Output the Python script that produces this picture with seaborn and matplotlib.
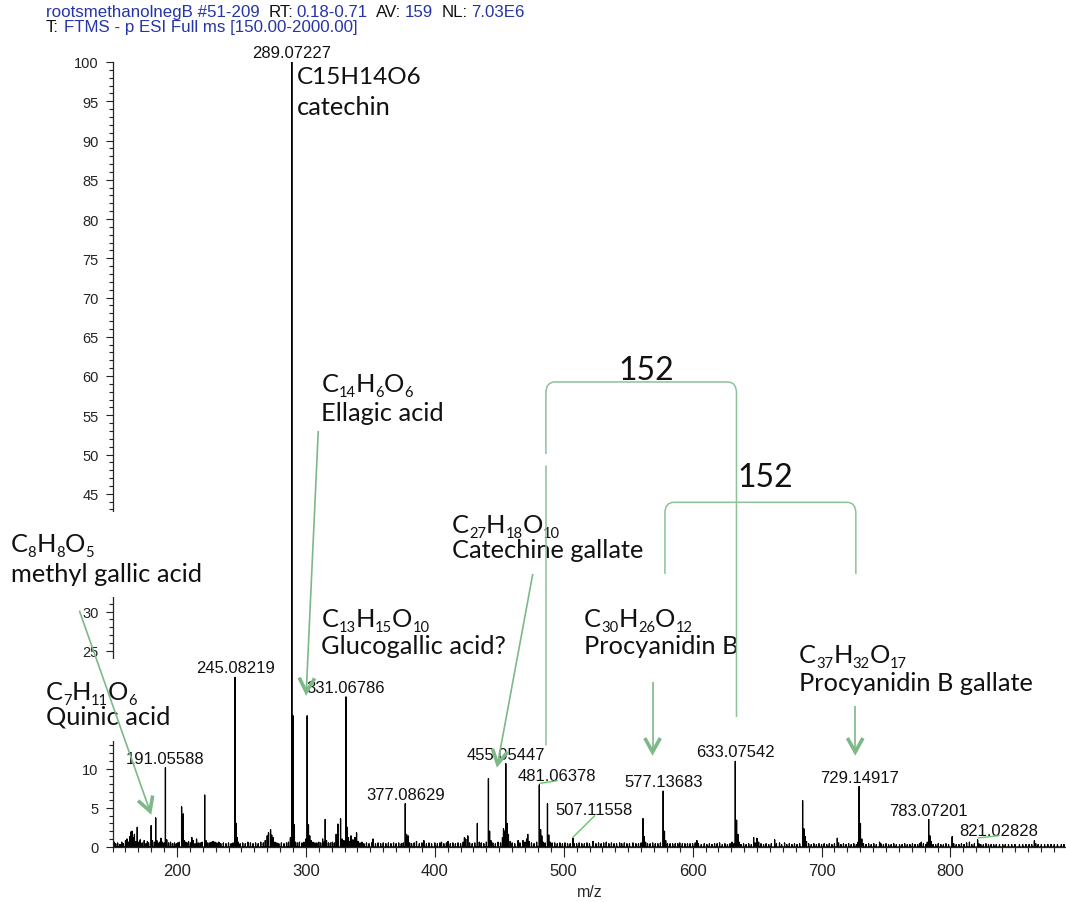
import re
import numpy as np
import pandas as pd
import matplotlib
matplotlib.use("Agg")
import matplotlib.pyplot as plt
import seaborn as sns
from matplotlib.patches import Rectangle, PathPatch
from matplotlib.path import Path

# ---------------------------------------------------------------
# Centroided negative-ion spectrum (m/z, relative abundance in %)
# ---------------------------------------------------------------
label_mz = [191.05588, 245.08219, 289.07227, 331.06786, 377.08629, 455.05447,
            481.06378, 507.11558, 577.13683, 633.07542, 729.14917, 783.07201,
            821.02828]
label_int = [10.1, 21.6, 100.0, 19.1, 5.5, 10.6, 7.9, 1.1, 7.1, 10.9, 7.7, 3.5, 0.9]

other_mz = [
    150.6, 151.4, 152.5, 154.0, 155.8, 157.2, 158.5, 160.1, 161.2, 162.4, 163.3, 164.3,
    165.1, 166.0, 167.0, 168.2, 169.2, 170.4, 171.5, 173.0, 174.6, 176.0, 177.1, 178.0,
    180.0, 181.0, 182.5, 183.5, 184.4, 185.2, 186.5, 187.6, 188.7, 190.0, 192.06, 193.5,
    195.0, 196.5, 198.0, 199.4, 200.6, 201.8, 203.6, 204.9, 205.8, 206.8, 207.8, 209.0,
    210.5, 211.5, 212.5, 214.0, 215.2, 216.5, 218.0, 219.5, 221.5, 222.5, 223.5, 225.0,
    226.5, 228.0, 229.5, 231.0, 232.5, 234.0, 236.0, 238.0, 240.0, 242.0, 243.5, 246.09,
    246.6, 247.5, 249.0, 251.0, 253.0, 255.0, 257.0, 259.0, 261.0, 263.0, 265.0, 267.0,
    268.5, 270.0, 271.0, 272.6, 273.5, 274.5, 276.0, 277.5, 279.0, 281.0, 283.0, 285.0,
    286.5, 288.0, 290.076, 291.08, 292.0, 293.5, 295.0, 297.0, 298.5, 300.0, 300.999,
    302.0, 303.0, 304.0, 305.5, 307.0, 308.5, 310.0, 311.5, 313.0, 314.0, 315.0, 316.0,
    317.5, 319.0, 320.5, 322.0, 323.5, 324.8, 326.9, 328.0, 329.5, 332.07, 333.0, 334.0,
    335.0, 336.5, 338.0, 339.3, 340.5, 342.0, 343.5, 345.0, 347.0, 349.0, 351.0, 352.0,
    354.0, 356.0, 358.0, 360.0, 362.0, 364.0, 366.0, 368.0, 370.0, 372.0, 374.0, 375.5,
    378.09, 379.3, 380.5, 382.0, 384.0, 385.8, 388.0, 390.0, 391.5, 393.5, 395.5, 397.5,
    400.0, 402.0, 404.0, 405.2, 407.0, 409.0, 410.3, 412.0, 414.0, 416.0, 418.0, 420.0,
    422.0, 423.0, 424.0, 425.6, 427.0, 429.0, 431.0, 433.0, 434.5, 436.0, 438.0, 440.0,
    441.6, 442.5, 443.5, 445.0, 447.0, 449.0, 451.0, 452.5, 453.3, 454.3, 456.06, 457.1,
    458.5, 460.0, 462.0, 464.6, 466.0, 468.4, 470.0, 471.2, 472.1, 473.0, 475.0, 477.0,
    479.0, 482.07, 483.0, 484.0, 485.5, 487.4, 488.4, 489.5, 491.0, 493.0, 495.0, 497.0,
    499.0, 501.0, 503.0, 505.0, 508.1, 510.0, 512.0, 514.0, 516.0, 518.0, 520.0, 522.7,
    525.0, 527.0, 529.0, 531.0, 533.0, 535.0, 537.0, 539.0, 541.0, 543.4, 545.0, 547.0,
    549.0, 551.0, 553.7, 556.0, 558.0, 560.0, 561.5, 562.4, 563.5, 565.0, 567.0, 569.0,
    571.0, 573.0, 575.0, 578.14, 579.1, 580.5, 582.5, 584.5, 586.5, 588.5, 590.0, 592.0,
    594.0, 596.0, 598.0, 600.0, 602.0, 603.3, 604.5, 606.7, 609.0, 611.0, 613.0, 615.0,
    617.0, 619.0, 620.9, 623.0, 625.0, 627.0, 629.0, 630.5, 632.0, 634.08, 635.1, 636.0,
    637.5, 639.5, 641.5, 643.5, 645.5, 647.3, 648.5, 649.9, 651.2, 653.0, 655.0, 657.0,
    659.0, 661.0, 663.6, 665.0, 667.4, 669.0, 671.3, 673.0, 675.0, 677.0, 679.0, 681.0,
    683.0, 685.3, 686.3, 687.3, 688.3, 690.0, 692.0, 694.0, 696.0, 698.0, 700.0, 702.0,
    704.0, 706.0, 708.0, 710.0, 712.2, 713.2, 715.0, 717.0, 719.0, 721.0, 723.0, 725.0,
    727.0, 728.3, 730.15, 731.2, 732.5, 734.5, 736.5, 738.5, 740.5, 742.5, 745.0, 746.0,
    748.0, 750.0, 752.0, 754.0, 756.0, 758.0, 760.5, 762.5, 764.5, 766.5, 768.5, 770.5,
    772.5, 774.5, 776.0, 777.3, 779.0, 781.0, 782.0, 784.07, 785.1, 786.5, 788.5, 790.5,
    792.5, 794.5, 796.5, 798.5, 801.3, 802.5, 804.5, 806.5, 808.5, 810.5, 812.5, 814.7,
    816.5, 818.5, 822.0, 823.5, 825.5, 827.5, 829.5, 831.5, 833.5, 835.5, 838.0, 840.5,
    842.5, 845.0, 847.5, 850.0, 853.5, 856.0, 858.5, 861.0, 863.0, 865.1, 866.1, 868.0,
    870.5, 873.0, 875.5, 878.0, 880.5, 883.0, 886.0, 888.0]
other_int = [
    1.5, 0.6, 0.4, 0.5, 0.3, 0.6, 0.4, 0.8, 1.0, 0.6, 1.3, 1.9,
    2.0, 1.2, 1.6, 0.7, 2.5, 0.6, 0.9, 0.5, 0.8, 0.4, 0.7, 0.5,
    2.7, 0.8, 0.6, 3.7, 0.8, 0.5, 0.6, 1.1, 0.6, 0.5, 0.9, 0.5,
    0.6, 0.4, 0.5, 0.4, 0.5, 0.6, 5.1, 4.2, 0.8, 0.6, 0.5, 0.7,
    0.5, 1.2, 0.8, 0.4, 1.0, 0.5, 0.5, 0.6, 6.6, 0.8, 0.5, 0.5,
    0.6, 0.7, 0.6, 0.5, 0.6, 0.4, 0.5, 0.4, 0.5, 0.4, 0.5, 3.0,
    1.2, 0.6, 0.4, 0.5, 0.4, 0.6, 0.5, 0.4, 0.5, 0.4, 0.6, 0.5,
    0.8, 1.4, 1.8, 2.2, 1.5, 1.2, 0.6, 0.5, 0.4, 0.5, 0.4, 0.5,
    0.6, 1.2, 16.7, 2.8, 0.6, 0.5, 0.6, 0.5, 0.6, 1.0, 16.7,
    2.8, 1.4, 0.8, 0.6, 0.5, 0.5, 0.6, 0.5, 1.0, 0.6, 3.5, 0.8,
    0.5, 0.5, 0.6, 0.5, 1.6, 2.9, 3.6, 1.0, 0.8, 2.5, 1.2, 0.7,
    1.4, 0.9, 1.2, 1.8, 0.7, 0.5, 0.6, 0.4, 0.5, 0.4, 0.5, 1.0,
    0.4, 0.5, 0.4, 0.5, 0.4, 0.5, 0.4, 0.5, 0.4, 0.5, 0.4, 0.5,
    1.6, 1.4, 0.5, 0.4, 0.5, 0.7, 0.4, 0.5, 0.8, 0.4, 0.5, 0.4,
    0.5, 0.4, 0.5, 0.6, 0.4, 0.5, 0.7, 0.4, 0.5, 0.4, 0.5, 0.4,
    0.6, 1.2, 1.0, 1.4, 0.5, 0.4, 0.5, 3.0, 0.6, 0.5, 0.4, 0.6,
    8.7, 2.0, 0.8, 0.5, 0.4, 0.6, 0.5, 1.2, 2.3, 2.0, 3.0, 1.6,
    0.7, 0.5, 0.4, 0.8, 0.5, 0.8, 0.6, 1.0, 1.6, 0.7, 0.5, 0.4,
    0.6, 2.2, 1.4, 0.6, 0.5, 5.5, 1.5, 0.6, 0.5, 0.5, 0.4, 0.5,
    0.4, 0.5, 0.4, 0.4, 0.4, 0.4, 0.5, 0.4, 0.4, 0.5, 0.4, 0.7,
    0.4, 0.5, 0.4, 0.5, 0.6, 0.4, 0.5, 0.4, 0.4, 0.5, 0.4, 0.5,
    0.4, 0.4, 0.5, 0.4, 0.4, 0.5, 3.6, 1.3, 0.6, 0.4, 0.4, 0.5,
    0.4, 0.4, 0.5, 2.0, 0.8, 0.4, 0.4, 0.4, 0.4, 0.4, 0.5, 0.4,
    0.4, 0.4, 0.4, 0.4, 0.5, 0.8, 0.4, 0.3, 0.4, 0.3, 0.4, 0.3,
    0.4, 0.4, 0.5, 0.3, 0.4, 0.3, 0.4, 0.6, 0.4, 3.4, 1.6, 0.6,
    0.3, 0.4, 0.3, 0.4, 0.3, 1.2, 0.5, 1.1, 0.6, 0.4, 0.3, 0.4,
    0.3, 0.4, 0.9, 0.4, 0.5, 0.3, 0.5, 0.3, 0.4, 0.3, 0.4, 0.3,
    0.4, 5.9, 2.3, 1.3, 0.7, 0.4, 0.3, 0.4, 0.3, 0.4, 0.3, 0.4,
    0.3, 0.4, 0.3, 0.4, 1.1, 0.5, 0.3, 0.4, 0.3, 0.4, 0.3, 0.4,
    0.3, 0.6, 3.0, 1.0, 0.4, 0.3, 0.4, 0.3, 0.4, 0.3, 0.6, 0.4,
    0.3, 0.4, 0.3, 0.3, 0.4, 0.3, 0.3, 0.3, 0.4, 0.3, 0.3, 0.4,
    0.3, 0.3, 0.4, 0.6, 0.4, 0.3, 0.6, 1.4, 0.7, 0.3, 0.3, 0.4,
    0.3, 0.3, 0.4, 0.3, 1.3, 0.4, 0.3, 0.3, 0.4, 0.3, 0.5, 0.6,
    0.3, 0.4, 0.4, 0.3, 0.3, 0.4, 0.3, 0.3, 0.3, 0.3, 0.3, 0.3,
    0.3, 0.3, 0.3, 0.3, 0.3, 0.3, 0.3, 0.3, 0.3, 0.8, 0.4, 0.3,
    0.3, 0.3, 0.3, 0.3, 0.3, 0.3, 0.3, 0.3]

peak_labels = [f"{m:.5f}" for m in label_mz]

# compound annotations: (formula, name, draw counts as subscripts)
compounds = {
    "catechin": ("C15H14O6", "catechin", False),
    "ellagic": ("C14H6O6", "Ellagic acid", True),
    "glucogallic": ("C13H15O10", "Glucogallic acid?", True),
    "cat_gallate": ("C27H18O10", "Catechine gallate", True),
    "procyanidin": ("C30H26O12", "Procyanidin B", True),
    "procy_gallate": ("C37H32O17", "Procyanidin B gallate", True),
    "methylgallic": ("C8H8O5", "methyl gallic acid", True),
    "quinic": ("C7H11O6", "Quinic acid", True),
}
mass_difference = "152"

header_line1 = [("rootsmethanolnegB #51-209", "b"), ("RT:", "k"), ("0.18-0.71", "b"),
                ("AV:", "k"), ("159", "b"), ("NL:", "k"), ("7.03E6", "b")]
header_line2 = [("T:", "k"), ("FTMS - p ESI Full ms [150.00-2000.00]", "b")]

# ---------------------------------------------------------------
sns.set_theme(style="ticks")
plt.rcParams.update({
    "font.family": ["Liberation Sans", "DejaVu Sans"],
    "axes.edgecolor": "#222222",
    "xtick.color": "#222222",
    "ytick.color": "#222222",
})

W, H = 1066, 903
fig = plt.figure(figsize=(W / 100, H / 100), dpi=100)
fig.patch.set_facecolor("white")
ax = fig.add_axes([112.5 / W, 1 - 848 / H, (W - 112.5) / W, (848 - 63) / H])
ax.set_facecolor("white")
renderer = fig.canvas.get_renderer()

# stick spectrum as a single zig-zag profile
mz_all = np.array(label_mz + other_mz)
ab_all = np.array(label_int + other_int)
order = np.argsort(mz_all)
mz_s, ab_s = mz_all[order], ab_all[order]
prof = pd.DataFrame({
    "m/z": np.repeat(mz_s, 3),
    "abundance": np.column_stack([np.zeros_like(ab_s), ab_s, np.zeros_like(ab_s)]).ravel(),
})
sns.lineplot(data=prof, x="m/z", y="abundance", sort=False, estimator=None,
             color="black", lw=0.9, ax=ax, zorder=2)

ax.set_xlim(150, 889.6)
ax.set_ylim(0, 100)
sns.despine(ax=ax)
ax.spines["left"].set_bounds(0, 100)
ax.spines["left"].set_linewidth(0.9)
ax.spines["bottom"].set_linewidth(0.9)

ax.set_xticks(np.arange(200, 900, 100))
ax.set_xticks(np.arange(150, 890, 10), minor=True)
yt = np.arange(0, 101, 5)
ax.set_yticks(yt)
# labels behind the two left-hand annotation panels are not shown
ax.set_yticklabels(["" if v in (15, 20, 35, 40) else str(v) for v in yt])
ax.set_yticks(np.arange(0, 101, 1), minor=True)
ax.tick_params(axis="x", which="major", length=7.5, width=0.8, labelsize=12, pad=4.0)
ax.tick_params(axis="x", which="minor", length=3.8, width=0.8)
ax.tick_params(axis="y", which="major", length=5.0, width=0.8, labelsize=10.5, pad=5)
ax.tick_params(axis="y", which="minor", length=3.0, width=0.8)
ax.set_xlabel("m/z", fontsize=11.5, labelpad=4)
ax.set_ylabel("")

# white panels behind the two left-hand annotations
for (x0, y0, x1, y1) in [(66.7, 31.85, 225.6, 42.68), (93.8, 13.5, 198.4, 23.95)]:
    ax.add_patch(Rectangle((x0, y0), x1 - x0, y1 - y0, transform=ax.transData,
                           facecolor="white", edgecolor="none", zorder=2.6, clip_on=False))

# peak m/z labels
lead = "#62c86a"
label_offsets = {481.06378: (17.4, 5.3), 507.11558: (20.8, 24.3), 821.02828: (21.1, 5.0)}
for m, h, txt in zip(label_mz, label_int, peak_labels):
    dx, dy = label_offsets.get(m, (0.0, 5.0))
    ax.annotate(txt, xy=(m, h), xytext=(dx * 0.72, dy * 0.72), textcoords="offset points",
                ha="center", va="baseline", fontsize=12, color="#111111", zorder=3,
                annotation_clip=False)
leaders = {481.06378: ((0.7, 1.7), (18.0, 4.3)),
           507.11558: ((0.0, 1.0), (21.7, 22.6)),
           821.02828: ((0.6, 2.0), (21.6, 4.3))}
for m, h in zip(label_mz, label_int):
    if m in leaders:
        (sx, sy), (ex, ey) = leaders[m]
        p = ax.transData.transform((m, h))
        a = ax.transData.inverted().transform((p[0] + sx, p[1] + sy))
        b = ax.transData.inverted().transform((p[0] + ex, p[1] + ey))
        ax.plot([a[0], b[0]], [a[1], b[1]], color=lead, lw=1.0, zorder=4, clip_on=False)

# compound annotations
ANN_SIZE = 18.3
ann_family = ["Lato", "DejaVu Sans"]


def formula_text(x, y, formula, subscripts):
    """Write a molecular formula with its atom counts as subscripts."""
    if not subscripts:
        ax.text(x, y, formula, ha="left", va="baseline", fontsize=ANN_SIZE - 0.8,
                family=ann_family, color="#111111", zorder=3, clip_on=False)
        return
    cur, base = ax.transData.transform((x, y))
    drop = 0.19 * ANN_SIZE * 100 / 72
    for element, count in re.findall(r"([A-Z][a-z]?)(\d*)", formula):
        pieces = [(element, ANN_SIZE, 0.0)]
        if count:
            pieces.append((count, ANN_SIZE * 0.58, drop))
        for s, fs, dy in pieces:
            px, py = ax.transData.inverted().transform((cur, base - dy))
            t = ax.text(px, py, s, ha="left", va="baseline", fontsize=fs,
                        family=ann_family, color="#111111", zorder=3, clip_on=False)
            cur = t.get_window_extent(renderer).x1


placements = {
    "catechin": (292.85, 97.29, 93.38),
    "ellagic": (312.1, 58.09, 54.39),
    "glucogallic": (312.1, 28.15, 24.71),
    "cat_gallate": (413.3, 40.13, 36.94),
    "procyanidin": (515.9, 28.15, 24.71),
    "procy_gallate": (682.5, 23.57, 20.04),
    "methylgallic": (71.0, 37.67, 33.92),
    "quinic": (98.4, 18.85, 15.67),
}
for key, (formula, name, sub) in compounds.items():
    x, y1, y2 = placements[key]
    formula_text(x, y1, formula, sub)
    ax.text(x, y2, name, ha="left", va="baseline", fontsize=ANN_SIZE,
            family=ann_family, color="#111111", zorder=3, clip_on=False)

# arrows pointing at the assigned peaks
green = "#7db888"


def arrow(start, tip, arm=16.0, half=np.deg2rad(29)):
    ax.plot([start[0], tip[0]], [start[1], tip[1]], color=green, lw=1.2,
            zorder=5, clip_on=False, solid_capstyle="butt")
    p0 = ax.transData.transform(start)
    p1 = ax.transData.transform(tip)
    d = (p0 - p1) / np.hypot(*(p0 - p1))
    pts = []
    for s in (1, -1):
        c, sn = np.cos(s * half), np.sin(s * half)
        r = np.array([c * d[0] - sn * d[1], sn * d[0] + c * d[1]])
        pts.append(ax.transData.inverted().transform(p1 + r * arm))
    ax.plot([pts[0][0], tip[0], pts[1][0]], [pts[0][1], tip[1], pts[1][1]],
            color=green, lw=2.6, zorder=5, clip_on=False,
            solid_joinstyle="miter", solid_capstyle="butt")


arrow((124.3, 30.1), (179.1, 4.55))
arrow((309.6, 53.0), (300.3, 19.75))
arrow((476.0, 34.78), (448.7, 10.57))
arrow((568.9, 21.02), (568.9, 12.1))
arrow((726.1, 18.0), (726.1, 12.1))

# 152 Da mass-difference brackets
bcol = "#8cc296"


def bracket(xl, xr, yt, ybl, ybr, rx=7.0, ry=1.4):
    verts = [(xl, ybl), (xl, yt - ry), (xl, yt), (xl + rx, yt), (xr - rx, yt),
             (xr, yt), (xr, yt - ry), (xr, ybr)]
    codes = [Path.MOVETO, Path.LINETO, Path.CURVE3, Path.CURVE3, Path.LINETO,
             Path.CURVE3, Path.CURVE3, Path.LINETO]
    ax.add_patch(PathPatch(Path(verts, codes), facecolor="none", edgecolor=bcol,
                           lw=1.1, zorder=4, clip_on=False))


bracket(486.2, 634.0, 59.24, 50.06, 16.56)
ax.plot([486.2, 486.2], [48.57, 12.99], color=bcol, lw=1.1, zorder=4)
bracket(578.5, 726.6, 43.91, 34.78, 34.78)
num_font = dict(family=ann_family, fontsize=23, color="#111111", zorder=3)
ax.text(563.6, 59.6, mass_difference, ha="center", va="baseline", **num_font)
ax.text(656.6, 46.0, mass_difference, ha="center", va="baseline", **num_font)

# acquisition header, laid out piece by piece
colours = {"b": "#2535a8", "k": "#111111"}
HDR = 12.2


def header(pieces, x0, y, gaps):
    x = x0
    for (s, c), gap in zip(pieces, gaps):
        t = fig.text(x / W, 1 - y / H, s, color=colours[c], fontsize=HDR,
                     ha="left", va="baseline", family=["Liberation Sans", "DejaVu Sans"])
        x = t.get_window_extent(renderer).x1 + gap


header(header_line1, 45.7, 17.3, [9, 3, 9, 3, 9, 3, 0])
header(header_line2, 45.7, 32.3, [5, 0])

fig.savefig("out.png", dpi=100, facecolor="white")
